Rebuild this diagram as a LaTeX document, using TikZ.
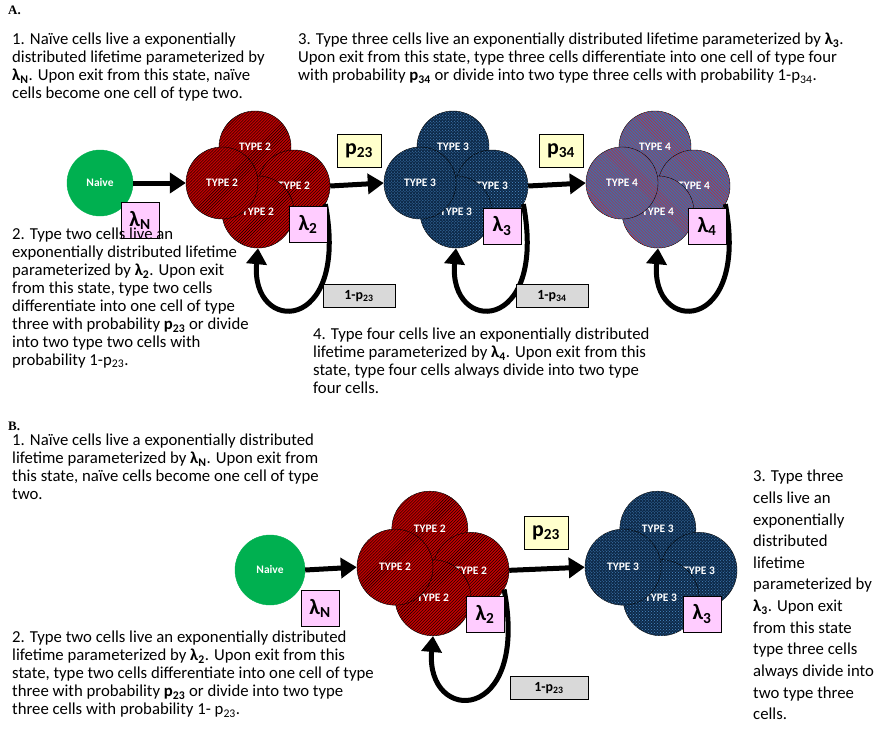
\documentclass[tikz,border=0pt]{standalone}
\usepackage{fontspec}
\setmainfont{Carlito}
\newfontfamily\serifhead{Liberation Serif}
\usetikzlibrary{patterns,arrows.meta}
\definecolor{naivegreen}{HTML}{00B050}
\definecolor{typetwo}{HTML}{C00000}
\definecolor{typethree}{HTML}{0E2A4A}
\definecolor{typethreedots}{HTML}{4A8CC8}
\definecolor{typefour}{HTML}{3F6FA8}
\definecolor{typefourlines}{HTML}{D02030}
\definecolor{ratepink}{HTML}{FFCCFF}
\definecolor{probyellow}{HTML}{FFFFCC}
\definecolor{backgray}{HTML}{D9D9D9}
\tikzset{
  cell/.style={circle, draw=black, thin, text=white, font=\bfseries\fontsize{11.5}{12}\selectfont, inner sep=0pt},
  celltwo/.style={cell, fill=typetwo, postaction={pattern=north east lines, pattern color=black}},
  cellthree/.style={cell, fill=typethree, postaction={pattern=crosshatch dots, pattern color=typethreedots}},
  cellfour/.style={cell, fill=typefour, postaction={pattern=north west lines, pattern color=typefourlines}},
  naive/.style={cell, fill=naivegreen, draw=naivegreen},
  rate/.style={draw=black, fill=ratepink, font=\bfseries\fontsize{22}{22}\selectfont, minimum width=38bp, minimum height=36bp, inner sep=0pt},
  prob/.style={draw=black, fill=probyellow, font=\bfseries\fontsize{22}{22}\selectfont, minimum width=44bp, minimum height=33bp, inner sep=0pt},
  back/.style={draw=black, fill=backgray, font=\bfseries\fontsize{14}{14}\selectfont, minimum width=72bp, minimum height=23bp, inner sep=0pt},
  flow/.style={line width=5bp, -{Triangle[length=16bp,width=20bp]}},
  note/.style={anchor=north west, align=left, inner sep=0pt, font=\fontsize{16.8}{18}\selectfont},
  panel/.style={anchor=north west, inner sep=0pt, font=\serifhead\bfseries\fontsize{13}{14}\selectfont}
}
% one clump of four cells: name, x, y, radius, style, text
\newcommand\clump[6]{%
  \pgfmathsetmacro\k{#4/36}
  \node[#5, minimum size={2*#4 bp}] (#1t) at ({#2-3*\k}, {#3-33*\k}) {#6};
  \node[#5, minimum size={2*#4 bp}] (#1r) at ({#2+36*\k}, {#3+6*\k}) {#6};
  \node[#5, minimum size={2*#4 bp}] (#1b) at ({#2}, {#3+32*\k}) {#6};
  \node[#5, minimum size={2*#4 bp}] (#1l) at ({#2-36*\k}, {#3+3*\k}) {#6};
}
\begin{document}
\begin{tikzpicture}[x=1bp, y=-1bp]
\useasboundingbox (0,0) rectangle (891,749);

% panel A
\node[panel] (labA) at (8,6) {A.};
\node[note] (noteA1) at (12,33) {1. Naïve cells live a exponentially\\distributed lifetime parameterized by\\\textbf{λ\textsubscript{N}}. Upon exit from this state, naïve\\cells become one cell of type two.};
\node[note] (noteA3) at (298,33) {3. Type three cells live an exponentially distributed lifetime parameterized by \textbf{λ\textsubscript{3}}.\\Upon exit from this state, type three cells differentiate into one cell of type four\\with probability \textbf{p\textsubscript{34}} or divide into two type three cells with probability 1-p\textsubscript{34}.};

\node[naive, minimum size=66bp] (naiveA) at (100,183) {Naive};
\clump{twoA}{258}{180}{36}{celltwo}{TYPE 2}
\clump{threeA}{456}{180}{36}{cellthree}{TYPE 3}
\clump{fourA}{658}{180}{36}{cellfour}{TYPE 4}

\draw[flow] (naiveA.east) -- (twoAl.west);
\draw[flow] (twoAr.east) -- (threeAl.west);
\draw[flow] (threeAr.east) -- (fourAl.west);
\draw[flow] (twoAr.-30) .. controls (350,335) and (250,335) .. (twoAb.south);
\draw[flow] (threeAr.-30) .. controls (548,335) and (448,335) .. (threeAb.south);
\draw[flow] (fourAr.-30) .. controls (750,335) and (650,335) .. (fourAb.south);

\node[rate] (rateNA) at (140,220) {λ\textsubscript{N}};
\node[rate] (rate2A) at (308,224) {λ\textsubscript{2}};
\node[rate] (rate3A) at (502,226) {λ\textsubscript{3}};
\node[rate] (rate4A) at (707,226) {λ\textsubscript{4}};
\node[prob] (p23A) at (359,151) {p\textsubscript{23}};
\node[prob] (p34A) at (561,151) {p\textsubscript{34}};
\node[back] (q23A) at (359,296) {1-p\textsubscript{23}};
\node[back] (q34A) at (552,296) {1-p\textsubscript{34}};

\node[note] (noteA2) at (12,228) {2. Type two cells live an\\exponentially distributed lifetime\\parameterized by \textbf{λ\textsubscript{2}}. Upon exit\\from this state, type two cells\\differentiate into one cell of type\\three with probability \textbf{p\textsubscript{23}} or divide\\into two type two cells with\\probability 1-p\textsubscript{23}.};
\node[note] (noteA4) at (313,328) {4. Type four cells live an exponentially distributed\\lifetime parameterized by \textbf{λ\textsubscript{4}}. Upon exit from this\\state, type four cells always divide into two type\\four cells.};

% panel B
\node[panel] (labB) at (8,422) {B.};
\node[note] (noteB1) at (12,434) {1. Naïve cells live a exponentially distributed\\lifetime parameterized by \textbf{λ\textsubscript{N}}. Upon exit from\\this state, naïve cells become one cell of type\\two.};

\node[naive, minimum size=70bp] (naiveB) at (270,570) {Naive};
\clump{twoB}{433}{564}{38}{celltwo}{TYPE 2}
\clump{threeB}{661}{564}{38}{cellthree}{TYPE 3}

\draw[flow] (naiveB.east) -- (twoBl.west);
\draw[flow] (twoBr.east) -- (threeBl.west);
\draw[flow] (twoBr.-30) .. controls (530,725) and (425,725) .. (twoBb.south);

\node[rate] (rateNB) at (320,608) {λ\textsubscript{N}};
\node[rate] (rate2B) at (485,614) {λ\textsubscript{2}};
\node[rate] (rate3B) at (702,614) {λ\textsubscript{3}};
\node[prob] (p23B) at (546,533) {p\textsubscript{23}};
\node[back, minimum width=78bp] (q23B) at (549,688) {1-p\textsubscript{23}};

\node[note] (noteB2) at (12,631) {2. Type two cells live an exponentially distributed\\lifetime parameterized by \textbf{λ\textsubscript{2}}. Upon exit from this\\state, type two cells differentiate into one cell of type\\three with probability \textbf{p\textsubscript{23}} or divide into two type\\three cells with probability 1- p\textsubscript{23}.};
\node[note, font=\fontsize{16.8}{21.7}\selectfont] (noteB3) at (753,470) {3. Type three\\cells live an\\exponentially\\distributed\\lifetime\\parameterized by\\\textbf{λ\textsubscript{3}}. Upon exit\\from this state\\type three cells\\always divide into\\two type three\\cells.};
\end{tikzpicture}
\end{document}
